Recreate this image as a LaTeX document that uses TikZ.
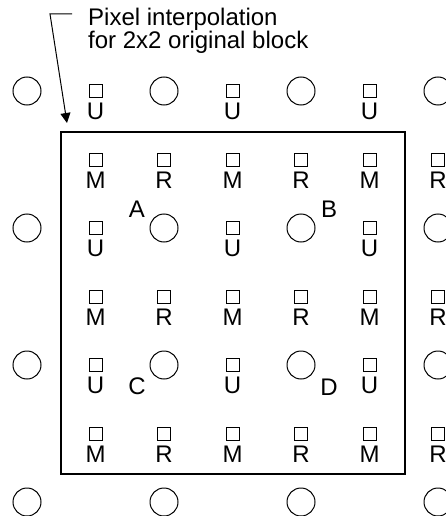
\documentclass[tikz,border=0pt]{standalone}
\usepackage{fontspec}
\setmainfont{Liberation Sans}
\usetikzlibrary{arrows.meta}
\tikzset{
  orig/.style={draw,circle,line width=1pt,minimum size=28pt,inner sep=0pt},
  interp/.style={draw,rectangle,line width=1pt,minimum size=13pt,inner sep=0pt},
  tag/.style={inner sep=0pt,font=\fontsize{24}{20}\selectfont},
}
\begin{document}
\begin{tikzpicture}[x=1pt,y=-1pt]
  \useasboundingbox (0,0) rectangle (446,516);

  \foreach \c in {0,2,4,6}
  \foreach \r in {0,2,4,6}
  \node[orig] (o\c\r) at (27+68.5*\c,91+68.5*\r) {};

  \foreach \c in {1,3,5}
  \foreach \r in {0,2,4}
  {\node[interp] (s\c\r) at (27+68.5*\c,91+68.5*\r) {};
   \node[tag] (t\c\r) at ([yshift=-20.5pt]s\c\r.center) {U};}

  \foreach \c/\t in {1/M,2/R,3/M,4/R,5/M,6/R}
  \foreach \r in {1,3,5}
  {\node[interp] (s\c\r) at (27+68.5*\c,91+68.5*\r) {};
   \node[tag] (t\c\r) at ([yshift=-20.5pt]s\c\r.center) {\t};}

  \node[draw,line width=2pt,minimum width=344pt,minimum height=342pt,inner sep=0pt] (block) at (233,303) {};

  \node[tag] (la) at ([xshift=-27pt,yshift=19pt]o22.center) {A};
  \node[tag] (lb) at ([xshift=28pt,yshift=19pt]o42.center) {B};
  \node[tag] (lc) at ([xshift=-27pt,yshift=-21pt]o24.center) {C};
  \node[tag] (ld) at ([xshift=28pt,yshift=-22pt]o44.center) {D};

  \node[tag,align=left,anchor=north west] (note) at (88,7.5) {Pixel interpolation\\for 2x2 original block};
  \coordinate (hook) at (72,14);
  \coordinate (bend) at (50,14);
  \draw[line width=1pt,-{Triangle[length=10pt,width=10pt]}] (hook) -- (bend) -- ([xshift=7pt,yshift=8pt]block.north west);
\end{tikzpicture}
\end{document}
